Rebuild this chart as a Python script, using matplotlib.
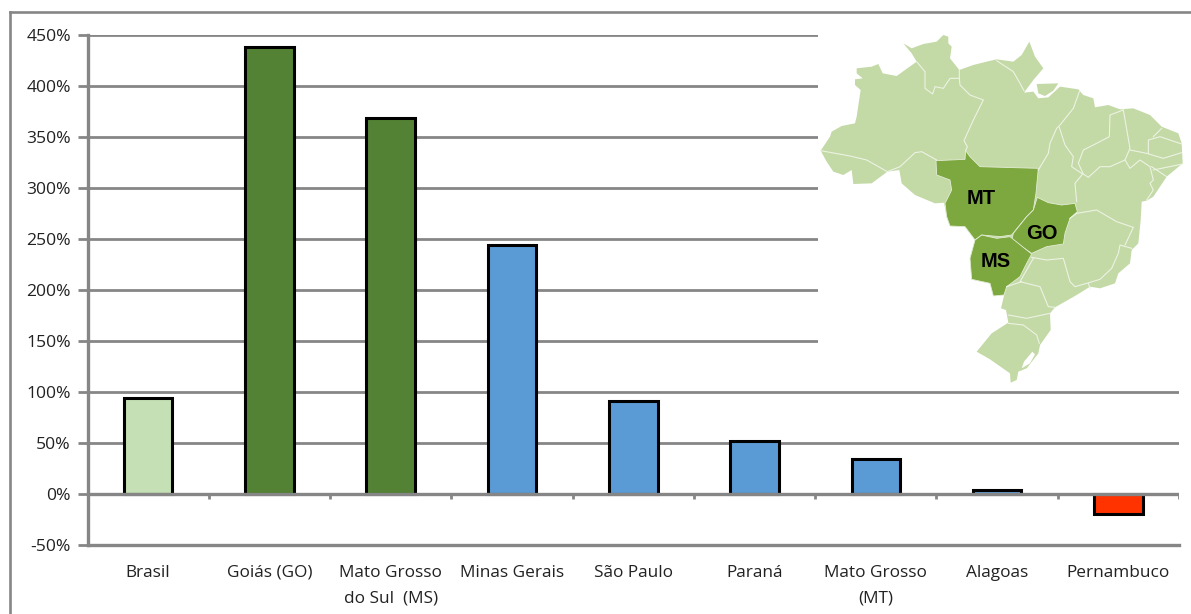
import matplotlib
matplotlib.use("Agg")
import matplotlib.pyplot as plt
from matplotlib.lines import Line2D
from matplotlib.patches import Polygon, Rectangle

W, H = 1191, 614

# Growth by region, in percent
categories = ["Brasil", "Goiás (GO)", "Mato Grosso\ndo Sul  (MS)", "Minas Gerais", "São Paulo",
              "Paraná", "Mato Grosso\n(MT)", "Alagoas", "Pernambuco"]
values = [94, 438, 369, 244, 91, 52, 34, 4, -20]
bar_colors = ["#C5E0B4", "#548235", "#548235", "#5B9BD5", "#5B9BD5",
              "#5B9BD5", "#5B9BD5", "#5B9BD5", "#FF3300"]
y_ticks = list(range(-50, 451, 50))

# Simplified outlines for the Brazil inset map (map-local units)
brazil = [(62,392),(90,350),(95,335),(125,318),(165,310),(170,290),(182,210),(165,195),(165,178),(188,175),
          (170,160),(170,145),(215,140),(235,132),(248,160),(290,168),(350,125),(335,100),(310,70),(335,85),
          (370,72),(410,65),(430,45),(445,50),(445,70),(455,80),(450,115),(478,150),(520,135),(560,125),
          (590,118),(640,125),(665,105),(688,65),(705,110),(730,145),(700,180),(672,218),(700,215),(715,235),
          (745,232),(780,200),(835,208),(850,225),(880,235),(885,262),(925,255),(960,268),(1000,265),(1050,285),
          (1085,320),(1135,340),(1145,370),(1148,430),(1100,470),(1060,530),(1040,542),(1025,545),(1022,600),
          (1015,670),(995,690),(990,730),(955,760),(945,790),(900,805),(870,800),(830,825),(765,862),(750,880),
          (752,930),(720,975),(715,1000),(680,1045),(655,1055),(650,1080),(632,1088),(630,1060),(570,1018),(530,995),
          (575,940),(625,908),(618,870),(603,865),(615,815),(580,828),(570,790),(515,778),(510,715),(525,660),
          (495,620),(450,618),(440,590),(432,548),(405,550),(345,525),(305,490),(298,450),(262,455),(215,490),
          (160,492),(155,450),(130,465),(100,455),(80,425)]
marajo = [(710,192),(775,190),(760,212),(735,228),(715,220)]
lagoon = [(697,995),(672,1025),(665,1045),(690,1030),(705,1003)]
mato_grosso = [(497,392),(510,410),(540,440),(715,445),(708,520),(700,570),(680,590),(635,645),(600,650),
               (545,645),(525,660),(495,620),(450,618),(440,590),(435,550),(455,510),(450,480),(410,465),
               (408,422),(495,418)]
goias = [(712,532),(745,548),(785,555),(825,550),(832,575),(810,595),(795,640),(790,672),(740,680),(695,700),
         (635,660),(640,640),(680,590),(700,570)]
mato_grosso_sul = [(545,645),(590,655),(630,650),(695,702),(680,730),(660,770),(620,800),(612,825),(580,828),
                   (570,790),(515,778),(510,715),(525,660)]
borders = [
    [(350,125),(375,155),(375,205),(398,222),(405,200),(430,205),(450,175),(478,175),(478,150)],
    [(478,175),(480,195),(510,225),(550,240),(520,300),(492,362),(502,380),(497,392)],
    [(590,122),(640,155),(660,190),(672,212)],
    [(62,392),(150,408),(200,420),(262,455),(300,440),(345,398),(365,395),(410,420)],
    [(838,215),(820,265),(780,315),(770,325),(750,370),(745,400),(715,450)],
    [(778,322),(795,375),(820,410),(815,440),(848,462),(825,490),(830,545)],
    [(970,270),(930,285),(928,350),(890,370),(850,390),(835,430),(850,462),(865,472),(900,440),(930,440),(975,420),(990,385),(970,270)],
    [(975,420),(990,445),(1020,420),(1050,440),(1060,480),(1050,490),(1060,510),(1040,540)],
    [(990,390),(1040,400),(1090,415),(1145,398)],
    [(1060,350),(1085,325)],
    [(1045,400),(1045,360),(1080,350),(1145,372)],
    [(1055,440),(1100,470)],
    [(1060,450),(1148,432)],
    [(810,595),(830,580),(890,570),(950,605),(1000,622),(975,675)],
    [(695,712),(740,720),(790,715),(810,785),(825,800),(860,790),(900,778),(935,745),(955,700),(960,675),(995,685)],
    [(700,715),(660,785),(720,800),(745,860),(765,862)],
    [(865,790),(870,805)],
    [(625,885),(680,895),(750,880)],
    [(625,910),(670,915),(710,945),(718,970)],
    [(620,800),(665,785)],
]
map_labels = [("MT", 545, 535), ("GO", 725, 640), ("MS", 587, 725)]

GRAY = "#868686"
LABEL_FONT = ["Open Sans", "DejaVu Sans"]

fig = plt.figure(figsize=(W / 100, H / 100), dpi=100, facecolor="white")

# Outer chart frame: top and left edges only
fig.add_artist(Line2D([10 / W, 1], [1 - 12 / H, 1 - 12 / H], color=GRAY, lw=1.9, zorder=0))
fig.add_artist(Line2D([10 / W, 10 / W], [1 - 12 / H, 0], color=GRAY, lw=1.9, zorder=0))

ax = fig.add_axes([87.5 / W, 1 - 545 / H, (1179 - 87.5) / W, (545 - 35) / H])
positions = range(len(categories))
ax.bar(positions, values, width=0.4, color=bar_colors, edgecolor="black", linewidth=2.2, zorder=3)
ax.set_xlim(-0.5, len(categories) - 0.5)
ax.set_ylim(-50, 450)

ax.set_yticks(y_ticks)
ax.set_yticklabels([f"{v}%" for v in y_ticks], fontsize=12.6, family=LABEL_FONT, color="#222222")
ax.tick_params(axis="y", length=7, width=2, color=GRAY, pad=5)
ax.tick_params(axis="x", length=0, pad=0)
ax.set_xticks([])
ax.grid(axis="y", color=GRAY, lw=2, zorder=1)
ax.set_axisbelow(True)
for side in ("top", "right"):
    ax.spines[side].set_visible(False)
for side in ("left", "bottom"):
    ax.spines[side].set_color(GRAY)
    ax.spines[side].set_linewidth(2.4)

# Zero line with downward ticks at the category boundaries
ax.axhline(0, color=GRAY, lw=2.4, zorder=4)
for boundary in range(1, len(categories) + 1):
    x = boundary - 0.5
    ax.plot([x, x], [0, -5], color=GRAY, lw=2, zorder=4, solid_capstyle="butt")

# Category labels, each line placed on its own baseline
for pos, label in zip(positions, categories):
    for line_no, line in enumerate(label.split("\n")):
        ax.annotate(line, xy=(pos, -50), xytext=(0, -23 - 18.7 * line_no), textcoords="offset points",
                    ha="center", va="baseline", fontsize=12.4, family=LABEL_FONT, color="#222222",
                    annotation_clip=False)

# Inset map over a white panel that hides the gridlines
ax.add_patch(Rectangle((818 / W, 1 - 386 / H), (1185 - 818) / W, (386 - 25) / H,
                       transform=fig.transFigure, facecolor="white", edgecolor="none", zorder=5,
                       clip_on=False))
map_ax = fig.add_axes([800 / W, 1 - 400 / H, 391 / W, 380 / H], zorder=6)
map_ax.set_xlim(0, 1173)
map_ax.set_ylim(1140, 0)
map_ax.axis("off")
LIGHT = "#C3D9A6"
DARK = "#7DA73F"
map_ax.add_patch(Polygon(brazil, closed=True, facecolor=LIGHT, edgecolor="none"))
map_ax.add_patch(Polygon(marajo, closed=True, facecolor=LIGHT, edgecolor="none"))
map_ax.add_patch(Polygon(lagoon, closed=True, facecolor="white", edgecolor="none"))
for line in borders:
    xs, ys = zip(*line)
    map_ax.plot(xs, ys, color="#EDF3E3", lw=0.8)
for shape in (mato_grosso, goias, mato_grosso_sul):
    map_ax.add_patch(Polygon(shape, closed=True, facecolor=DARK, edgecolor="#E4EDD6", linewidth=0.6))
for text, x, y in map_labels:
    map_ax.text(x, y, text, ha="center", va="center", fontsize=14.5, fontweight="bold",
                family="Liberation Sans", color="black")

fig.savefig("out.png", dpi=100)
